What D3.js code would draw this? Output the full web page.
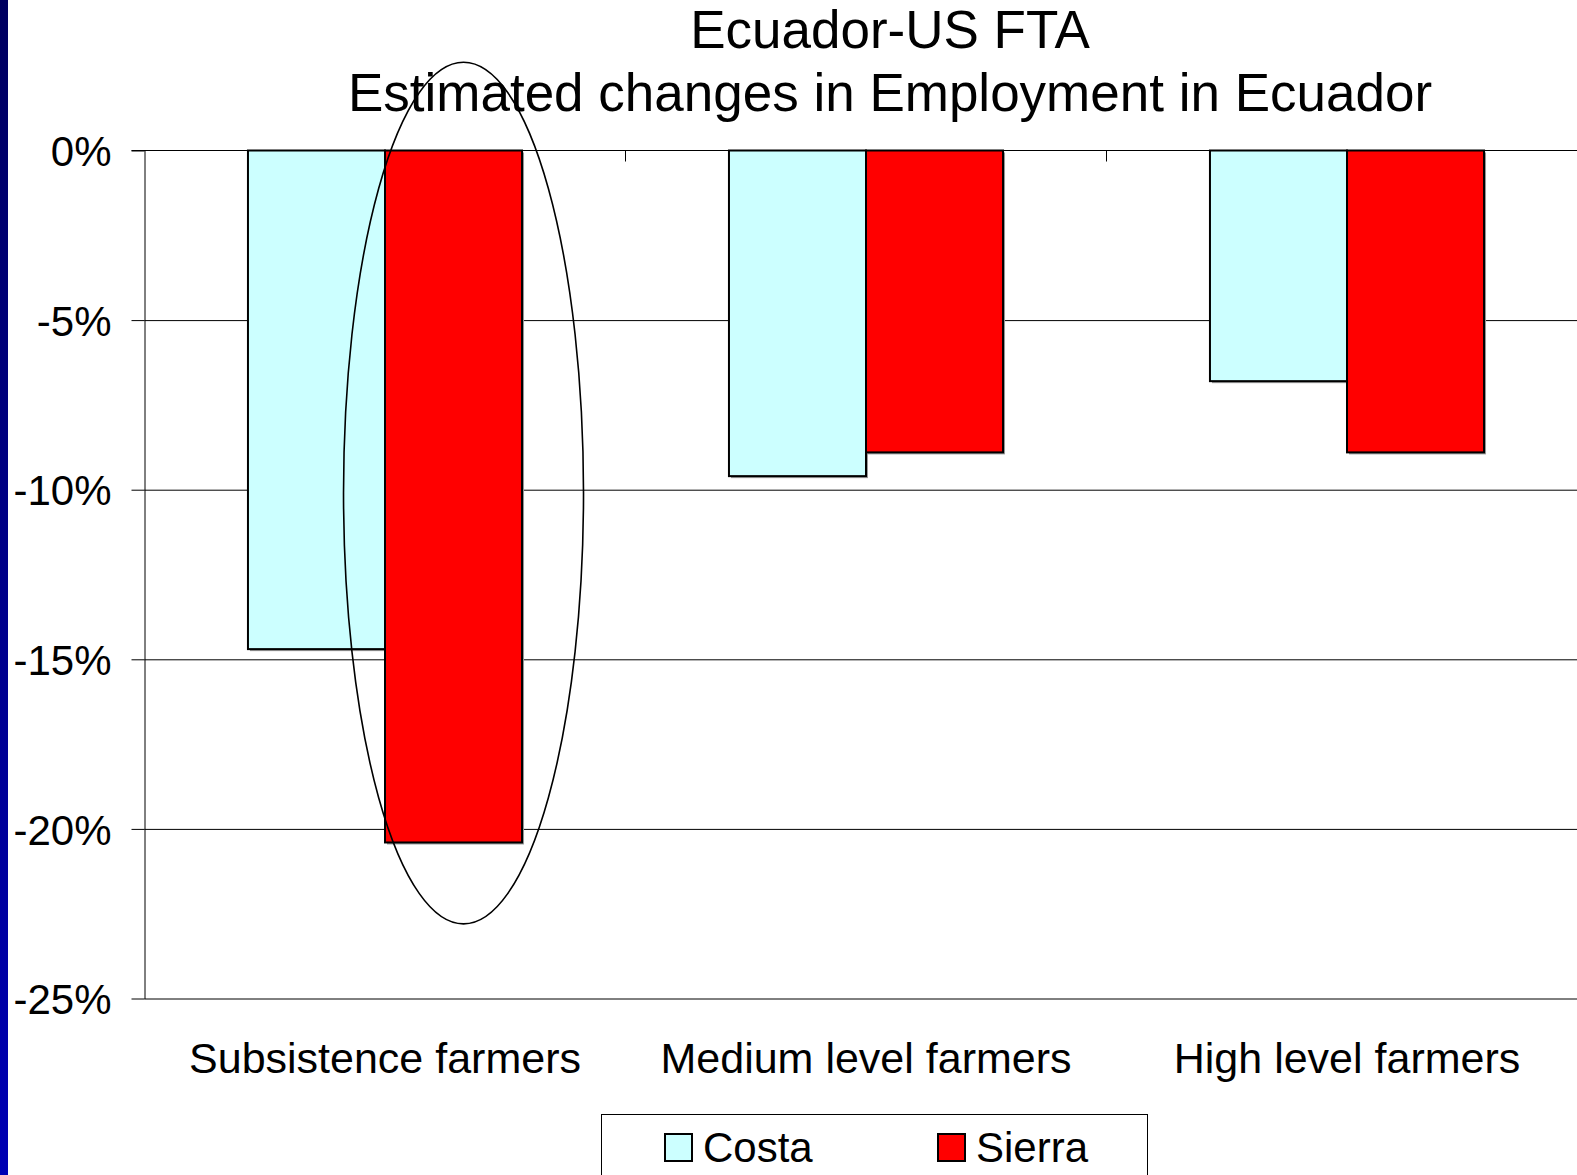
<!DOCTYPE html>
<html>
<head>
<meta charset="utf-8">
<script src="https://cdn.jsdelivr.net/npm/d3@7"></script>
<style>
  html, body { margin: 0; padding: 0; background: #fff; overflow: hidden; }
  svg { display: block; font-family: "Liberation Sans", Arial, sans-serif; }
</style>
</head>
<body>
<svg id="chart"></svg>
<script>
var width = 1577;
var height = 1175;

// data
var categories = ["Subsistence farmers", "Medium level farmers", "High level farmers"];
var series = ["Costa", "Sierra"];
var costa = [-14.7, -9.6, -6.8];
var sierra = [-20.4, -8.9, -8.9];
var yTicks = [0, -5, -10, -15, -20, -25];
var colors = ["#ccffff", "#ff0000"];
var titleLines = ["Ecuador-US FTA", "Estimated changes in Employment in Ecuador"];

var rows = categories.map((c, i) => ({cat: c, values: [costa[i], sierra[i]]}));

var plotLeft = 144.5, plotTop = 150.5, plotBottom = 998.5, plotRight = 1587.5;

var svg = d3.select("#chart")
    .attr("width", width)
    .attr("height", height);

// blue strip on the left edge of the slide
var grad = svg.append("defs").append("linearGradient")
    .attr("id", "strip").attr("x1", 0).attr("y1", 0).attr("x2", 0).attr("y2", 1);
grad.append("stop").attr("offset", "0%").attr("stop-color", "#000060");
grad.append("stop").attr("offset", "100%").attr("stop-color", "#0000b4");
svg.append("rect").attr("x", 0).attr("y", 0).attr("width", 8).attr("height", height)
    .attr("fill", "url(#strip)");

var y = d3.scaleLinear().domain([0, -25]).range([plotTop, plotBottom]);
var x0 = d3.scaleBand().domain(categories).range([plotLeft, plotRight]).padding(0);
var x1 = d3.scaleBand().domain(series).range([0, x0.bandwidth()]).paddingInner(0).paddingOuter(0.755);

// gridlines
svg.append("g")
    .attr("transform", `translate(${plotLeft},0)`)
    .call(d3.axisLeft(y).tickValues(yTicks.slice(1)).tickSize(-(plotRight - plotLeft)).tickFormat(""))
    .call(g => g.select(".domain").remove())
    .selectAll("line").attr("stroke", "#000").attr("stroke-width", 1);

// y axis
var yAxis = svg.append("g")
    .attr("transform", `translate(${plotLeft},0)`)
    .call(d3.axisLeft(y).tickValues(yTicks).tickSize(13).tickSizeOuter(0).tickPadding(20)
        .tickFormat(d => d + "%"));
yAxis.select(".domain").attr("stroke", "#000");
yAxis.selectAll("line").attr("stroke", "#000");
yAxis.selectAll("text")
    .attr("font-size", 42)
    .attr("fill", "#000")
    .attr("font-family", "Liberation Sans, Arial, sans-serif")
    .attr("dy", "0.36em");

// bars
var groups = svg.append("g").selectAll("g")
    .data(rows)
    .enter()
    .append("g")
    .attr("transform", d => `translate(${x0(d.cat)},0)`);

var bars = groups.selectAll("g")
    .data(d => d.values.map((v, i) => ({key: series[i], value: v, i: i})))
    .enter()
    .append("g");

bars.append("rect")
    .attr("x", d => x1(d.key) + 2)
    .attr("y", y(0) + 2)
    .attr("width", x1.bandwidth())
    .attr("height", d => y(d.value) - y(0))
    .attr("fill", "#9a9a9a");

bars.append("rect")
    .attr("x", d => x1(d.key))
    .attr("y", y(0))
    .attr("width", x1.bandwidth())
    .attr("height", d => y(d.value) - y(0))
    .attr("fill", d => colors[d.i])
    .attr("stroke", "#000")
    .attr("stroke-width", 2);

// category axis along zero line, ticks between categories
svg.append("line")
    .attr("x1", plotLeft - 13).attr("x2", plotRight)
    .attr("y1", y(0)).attr("y2", y(0))
    .attr("stroke", "#000").attr("stroke-width", 1);
svg.append("g").selectAll("line")
    .data(categories.slice(1))
    .enter()
    .append("line")
    .attr("x1", d => x0(d)).attr("x2", d => x0(d))
    .attr("y1", y(0)).attr("y2", y(0) + 11)
    .attr("stroke", "#000");

svg.append("g").selectAll("text")
    .data(categories)
    .enter()
    .append("text")
    .attr("x", d => x0(d) + x0.bandwidth() / 2)
    .attr("y", 1073)
    .attr("text-anchor", "middle")
    .attr("font-size", 43)
    .text(d => d);

// ellipse around the subsistence Sierra bar
var mark = {cat: "Subsistence farmers", key: "Sierra", top: 2.6, bottom: -22.8};
svg.append("ellipse")
    .attr("cx", x0(mark.cat) + x1(mark.key) + x1.bandwidth() / 2 + 10)
    .attr("cy", (y(mark.top) + y(mark.bottom)) / 2)
    .attr("rx", 120)
    .attr("ry", (y(mark.bottom) - y(mark.top)) / 2)
    .attr("fill", "none")
    .attr("stroke", "#000")
    .attr("stroke-width", 1.6);

// title
svg.append("g").selectAll("text")
    .data(titleLines)
    .enter()
    .append("text")
    .attr("x", 890)
    .attr("y", (d, i) => 48 + i * 63)
    .attr("text-anchor", "middle")
    .attr("font-size", 53)
    .text(d => d);

// legend
var legend = svg.append("g");
legend.append("rect")
    .attr("x", 601.5).attr("y", 1114.5)
    .attr("width", 546).attr("height", 80)
    .attr("fill", "#fff").attr("stroke", "#000").attr("stroke-width", 1);
var legendX = [665, 938];
var items = legend.selectAll("g")
    .data(series)
    .enter()
    .append("g")
    .attr("transform", (d, i) => `translate(${legendX[i]},1134)`);
items.append("rect")
    .attr("width", 27).attr("height", 27)
    .attr("fill", (d, i) => colors[i])
    .attr("stroke", "#000").attr("stroke-width", 2);
items.append("text")
    .attr("x", 38).attr("y", 28)
    .attr("font-size", 42)
    .text(d => d);
</script>
</body>
</html>
